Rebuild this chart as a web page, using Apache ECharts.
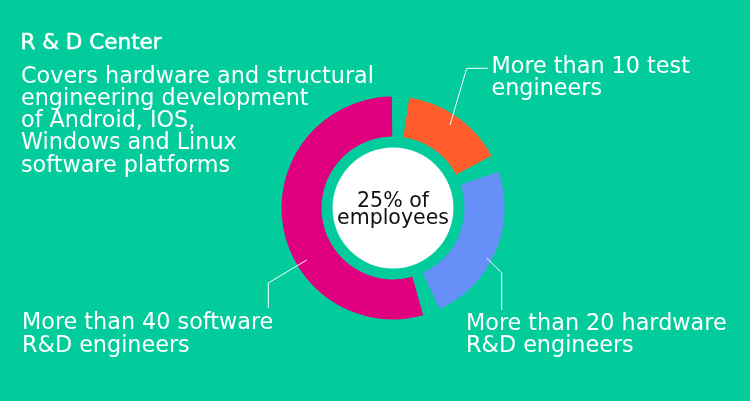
<!DOCTYPE html>
<html><head><meta charset="utf-8">
<script src="https://cdn.jsdelivr.net/npm/echarts@6/dist/echarts.min.js"></script>
<style>html,body{margin:0;padding:0;background:#02CC9C;} #c{width:750px;height:401px;}</style>
</head><body><div id="c"></div>
<script>
// ---- data ----
const categories = ['Test engineers', 'Hardware R&D engineers', 'Software R&D engineers'];
const shares = [17.4, 25.9, 56.7];           // angular share of the ring (%)
const labelTexts = [
  'More than 10 test\nengineers',
  'More than 20 hardware\nR&D engineers',
  'More than 40 software\nR&D engineers'
];
const centerText = '25% of\nemployees';
const titleText = 'R & D Center';
const descText = 'Covers hardware and structural\nengineering development\nof Android, IOS,\nWindows and Linux\nsoftware platforms';

// ---- style / layout ----
const colors = ['#FF5B2B', '#6690F8', '#E0007F'];
const BG = '#02CC9C';
const FONT = '"DejaVu Sans", Verdana, sans-serif';
const CENTER = [393, 208];
const labelPlacement = [
  { x: 491.5, y: 55.7, line: [[450, 125], [466.7, 68.3], [488, 68.3]] },
  { x: 466, y: 312.8, line: [[486.7, 258], [501.7, 273], [501.7, 310]] },
  { x: 22, y: 312.3, line: [[306.7, 260], [268.3, 283], [268.3, 308]] }
];

const leaderLines = labelPlacement.map(p => ({
  type: 'polyline', z: 100, silent: true,
  shape: { points: p.line },
  style: { stroke: '#fff', lineWidth: 1, fill: null }
}));

const chart = echarts.init(document.getElementById('c'), null, { renderer: 'canvas' });
chart.setOption({
  backgroundColor: BG,
  animation: false,
  graphic: [
    { type: 'text', z: 100, style: { x: 20.5, y: 33, text: titleText, fill: '#fff', fontSize: 21.5, fontFamily: FONT,
        lineHeight: 21.5, verticalAlign: 'top', stroke: '#fff', lineWidth: 0.5 } },
    { type: 'text', z: 100, style: { x: 21, y: 66, text: descText, fill: '#fff', fontSize: 22.3, fontFamily: FONT,
        lineHeight: 22.2, verticalAlign: 'top' } }
  ].concat(leaderLines),
  series: [
    {
      type: 'pie',
      center: CENTER,
      radius: [71.5, 111.5],
      startAngle: 86.1,
      padAngle: 9,
      clockwise: true,
      silent: true,
      emphasis: { disabled: true },
      data: categories.map((c, i) => ({ name: c, value: shares[i], itemStyle: { color: colors[i] } })),
      label: {
        show: true,
        position: 'outside',
        formatter: p => labelTexts[p.dataIndex],
        color: '#fff',
        fontSize: 22.3,
        lineHeight: 22.5,
        fontFamily: FONT,
        align: 'left',
        overflow: 'none'
      },
      labelLine: { show: false },
      labelLayout: function (params) {
        const p = labelPlacement[params.dataIndex];
        return { x: p.x, y: p.y, align: 'left', verticalAlign: 'top', width: 300 };
      }
    },
    {
      type: 'pie',
      center: CENTER,
      radius: [0, 60.5],
      silent: true,
      emphasis: { disabled: true },
      data: [{ value: 1, name: 'center', itemStyle: { color: '#fff' } }],
      label: {
        show: true,
        position: 'center',
        formatter: centerText,
        color: '#111',
        fontSize: 20.5,
        lineHeight: 17,
        fontFamily: FONT,
        offset: [0, 2]
      },
      labelLine: { show: false }
    }
  ]
});
</script>
</body></html>
